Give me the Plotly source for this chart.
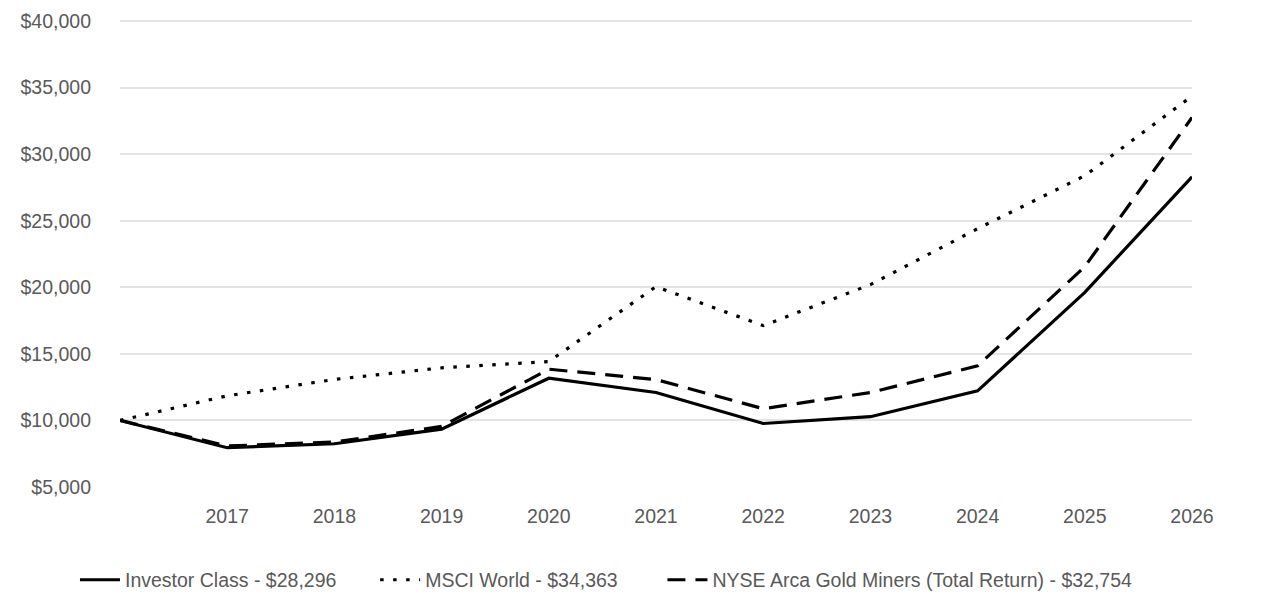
import plotly.graph_objects as go

years = [2016, 2017, 2018, 2019, 2020, 2021, 2022, 2023, 2024, 2025, 2026]
tick_years = [2017, 2018, 2019, 2020, 2021, 2022, 2023, 2024, 2025, 2026]

investor_class = [10000, 7950, 8250, 9350, 13170, 12100, 9770, 10280, 12220, 19620, 28296]
msci_world = [10000, 11850, 13080, 13950, 14420, 20050, 17120, 20200, 24400, 28380, 34363]
gold_miners = [10000, 8080, 8380, 9550, 13850, 13070, 10880, 12100, 14100, 21550, 32754]

names = ["Investor Class - $28,296", "MSCI World - $34,363",
         "NYSE Arca Gold Miners (Total Return) - $32,754"]

font_family = "Liberation Sans, Arial, sans-serif"
grey = "#595959"

fig = go.Figure()
fig.add_trace(go.Scatter(x=years, y=investor_class, mode="lines", name=names[0],
                         line=dict(color="black", width=3.2), legend="legend"))
fig.add_trace(go.Scatter(x=years, y=msci_world, mode="lines", name=names[1],
                         line=dict(color="black", width=3.2, dash="3.5px,9.5px"),
                         legend="legend2"))
fig.add_trace(go.Scatter(x=years, y=gold_miners, mode="lines", name=names[2],
                         line=dict(color="black", width=3.2, dash="18px,10px"),
                         legend="legend3"))

legend_style = dict(orientation="h", xanchor="left", y=-0.198, yanchor="middle",
                    font=dict(size=19.5, color=grey), itemwidth=40,
                    bgcolor="rgba(0,0,0,0)")

# page is drawn about 8px down/right of the window origin, so margins compensate
fig.update_layout(
    width=1286, height=614,
    margin=dict(l=112, r=102, t=9, b=135, autoexpand=False),
    paper_bgcolor="white", plot_bgcolor="white",
    font=dict(family=font_family, size=19.5, color=grey),
    showlegend=True,
    legend=dict(legend_style, x=-0.042),
    legend2=dict(legend_style, x=0.238),
    legend3=dict(legend_style, x=0.506),
)
fig.update_xaxes(range=[2016, 2026], tickvals=tick_years, showgrid=False,
                 zeroline=False, showline=False, ticks="", ticklabelstandoff=15,
                 automargin=False)
fig.update_yaxes(range=[5000, 40300], tickvals=list(range(5000, 40001, 5000)),
                 tickformat="$,d", gridcolor="#e3e3e3", gridwidth=2,
                 zeroline=False, showline=False, ticks="", ticklabelstandoff=28,
                 automargin=False)

fig.write_html("out.html")
